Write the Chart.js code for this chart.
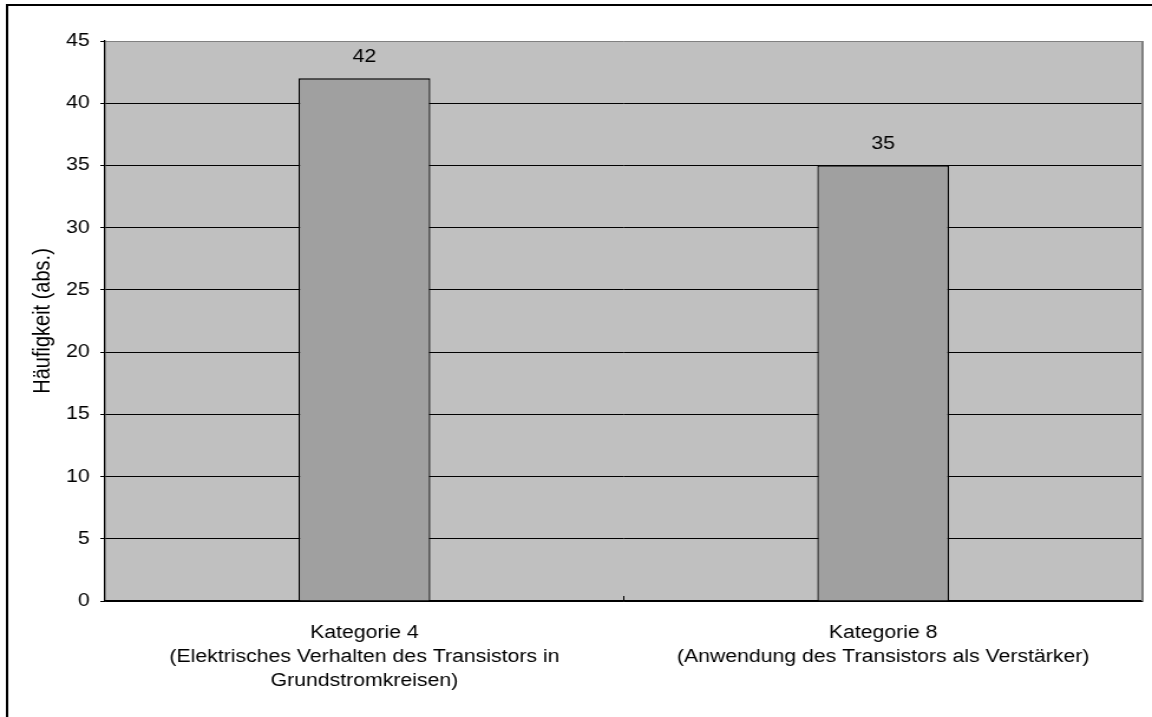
<!DOCTYPE html>
<html>
<head>
<meta charset="utf-8">
<script src="https://cdn.jsdelivr.net/npm/chart.js@4/dist/chart.umd.min.js"></script>
<style>
  html, body { margin: 0; padding: 0; background: #fff; overflow: hidden; }
  /* chart is drawn narrower and stretched sideways to the full page width */
  #wrap { width: 976px; height: 717px; transform: scaleX(1.1803); transform-origin: 0 0; }
</style>
</head>
<body>
<div id="wrap"><canvas id="chart" width="976" height="717"></canvas></div>
<script>
const categories = [
  ["Kategorie 4", "(Elektrisches Verhalten des Transistors in", "Grundstromkreisen)"],
  ["Kategorie 8", "(Anwendung des Transistors als Verstärker)"]
];
const counts = [42, 35];
const yTicks = [0, 5, 10, 15, 20, 25, 30, 35, 40, 45];

const FONT = "'Liberation Sans', Arial, sans-serif";

// white page with a black frame along the top and left edge
const framePlugin = {
  id: "frame",
  beforeDraw(chart) {
    const c = chart.ctx;
    c.save();
    c.fillStyle = "#fff";
    c.fillRect(0, 0, chart.width, chart.height);
    c.strokeStyle = "#000";
    c.lineWidth = 2;
    c.beginPath();
    c.moveTo(6, chart.height);
    c.lineTo(6, 5);
    c.lineTo(chart.width, 5);
    c.stroke();
    // grey plot background
    const a = chart.chartArea;
    c.fillStyle = "#c0c0c0";
    c.fillRect(a.left, a.top, a.right - a.left, a.bottom - a.top);
    c.restore();
  }
};

// right edge line, the tick between categories and the value labels
const plotPlugin = {
  id: "plot",
  beforeDatasetsDraw(chart) {
    const a = chart.chartArea;
    const c = chart.ctx;
    c.save();
    c.strokeStyle = "#808080";
    c.lineWidth = 2;
    c.beginPath();
    c.moveTo(a.right, a.top);
    c.lineTo(a.right, a.bottom);
    c.stroke();
    const x = chart.scales.x.getPixelForValue(0.5);
    c.strokeStyle = "#000";
    c.lineWidth = 1;
    c.beginPath();
    c.moveTo(x, a.bottom - 5);
    c.lineTo(x, a.bottom);
    c.stroke();
    c.restore();
  },
  afterDatasetsDraw(chart) {
    const c = chart.ctx;
    const meta = chart.getDatasetMeta(0);
    c.save();
    c.fillStyle = "#000";
    c.font = "18px " + FONT;
    c.textAlign = "center";
    c.textBaseline = "middle";
    meta.data.forEach((bar, i) => {
      c.fillText(String(counts[i]), bar.x, bar.y - 21);
    });
    c.restore();
  }
};

new Chart(document.getElementById("chart"), {
  type: "bar",
  data: {
    labels: categories,
    datasets: [{
      data: counts,
      backgroundColor: "#a0a0a0",
      borderColor: "#000",
      borderWidth: 1.3,
      borderSkipped: "bottom",
      categoryPercentage: 1,
      barPercentage: 0.254
    }]
  },
  options: {
    responsive: false,
    animation: false,
    layout: { padding: { top: 41, right: 8, left: 0, bottom: 0 } },
    plugins: {
      legend: { display: false },
      tooltip: { enabled: false }
    },
    scales: {
      x: {
        grid: { display: false },
        border: { display: true, color: "#000", width: 1.5 },
        ticks: {
          color: "#000",
          font: { family: FONT, size: 18, lineHeight: 1.333 },
          padding: 12,
          maxRotation: 0,
          autoSkip: false
        },
        afterFit(scale) { scale.height = 116; }
      },
      y: {
        min: 0,
        max: 45,
        afterBuildTicks(scale) { scale.ticks = yTicks.map(v => ({ value: v })); },
        grid: {
          color: ctx => ctx.tick && ctx.tick.value === 45 ? "#808080" : "#000",
          tickColor: "#000",
          lineWidth: 1,
          tickLength: 4
        },
        border: { display: true, color: "#000", width: 1.3 },
        ticks: {
          color: "#000",
          font: { family: FONT, size: 18 },
          padding: 9
        },
        title: {
          display: true,
          text: "Häufigkeit (abs.)",
          color: "#000",
          font: { family: FONT, size: 20 },
          padding: { top: 24, bottom: 0 }
        },
        afterFit(scale) { scale.width = 89; }
      }
    }
  },
  plugins: [framePlugin, plotPlugin]
});
</script>
</body>
</html>
